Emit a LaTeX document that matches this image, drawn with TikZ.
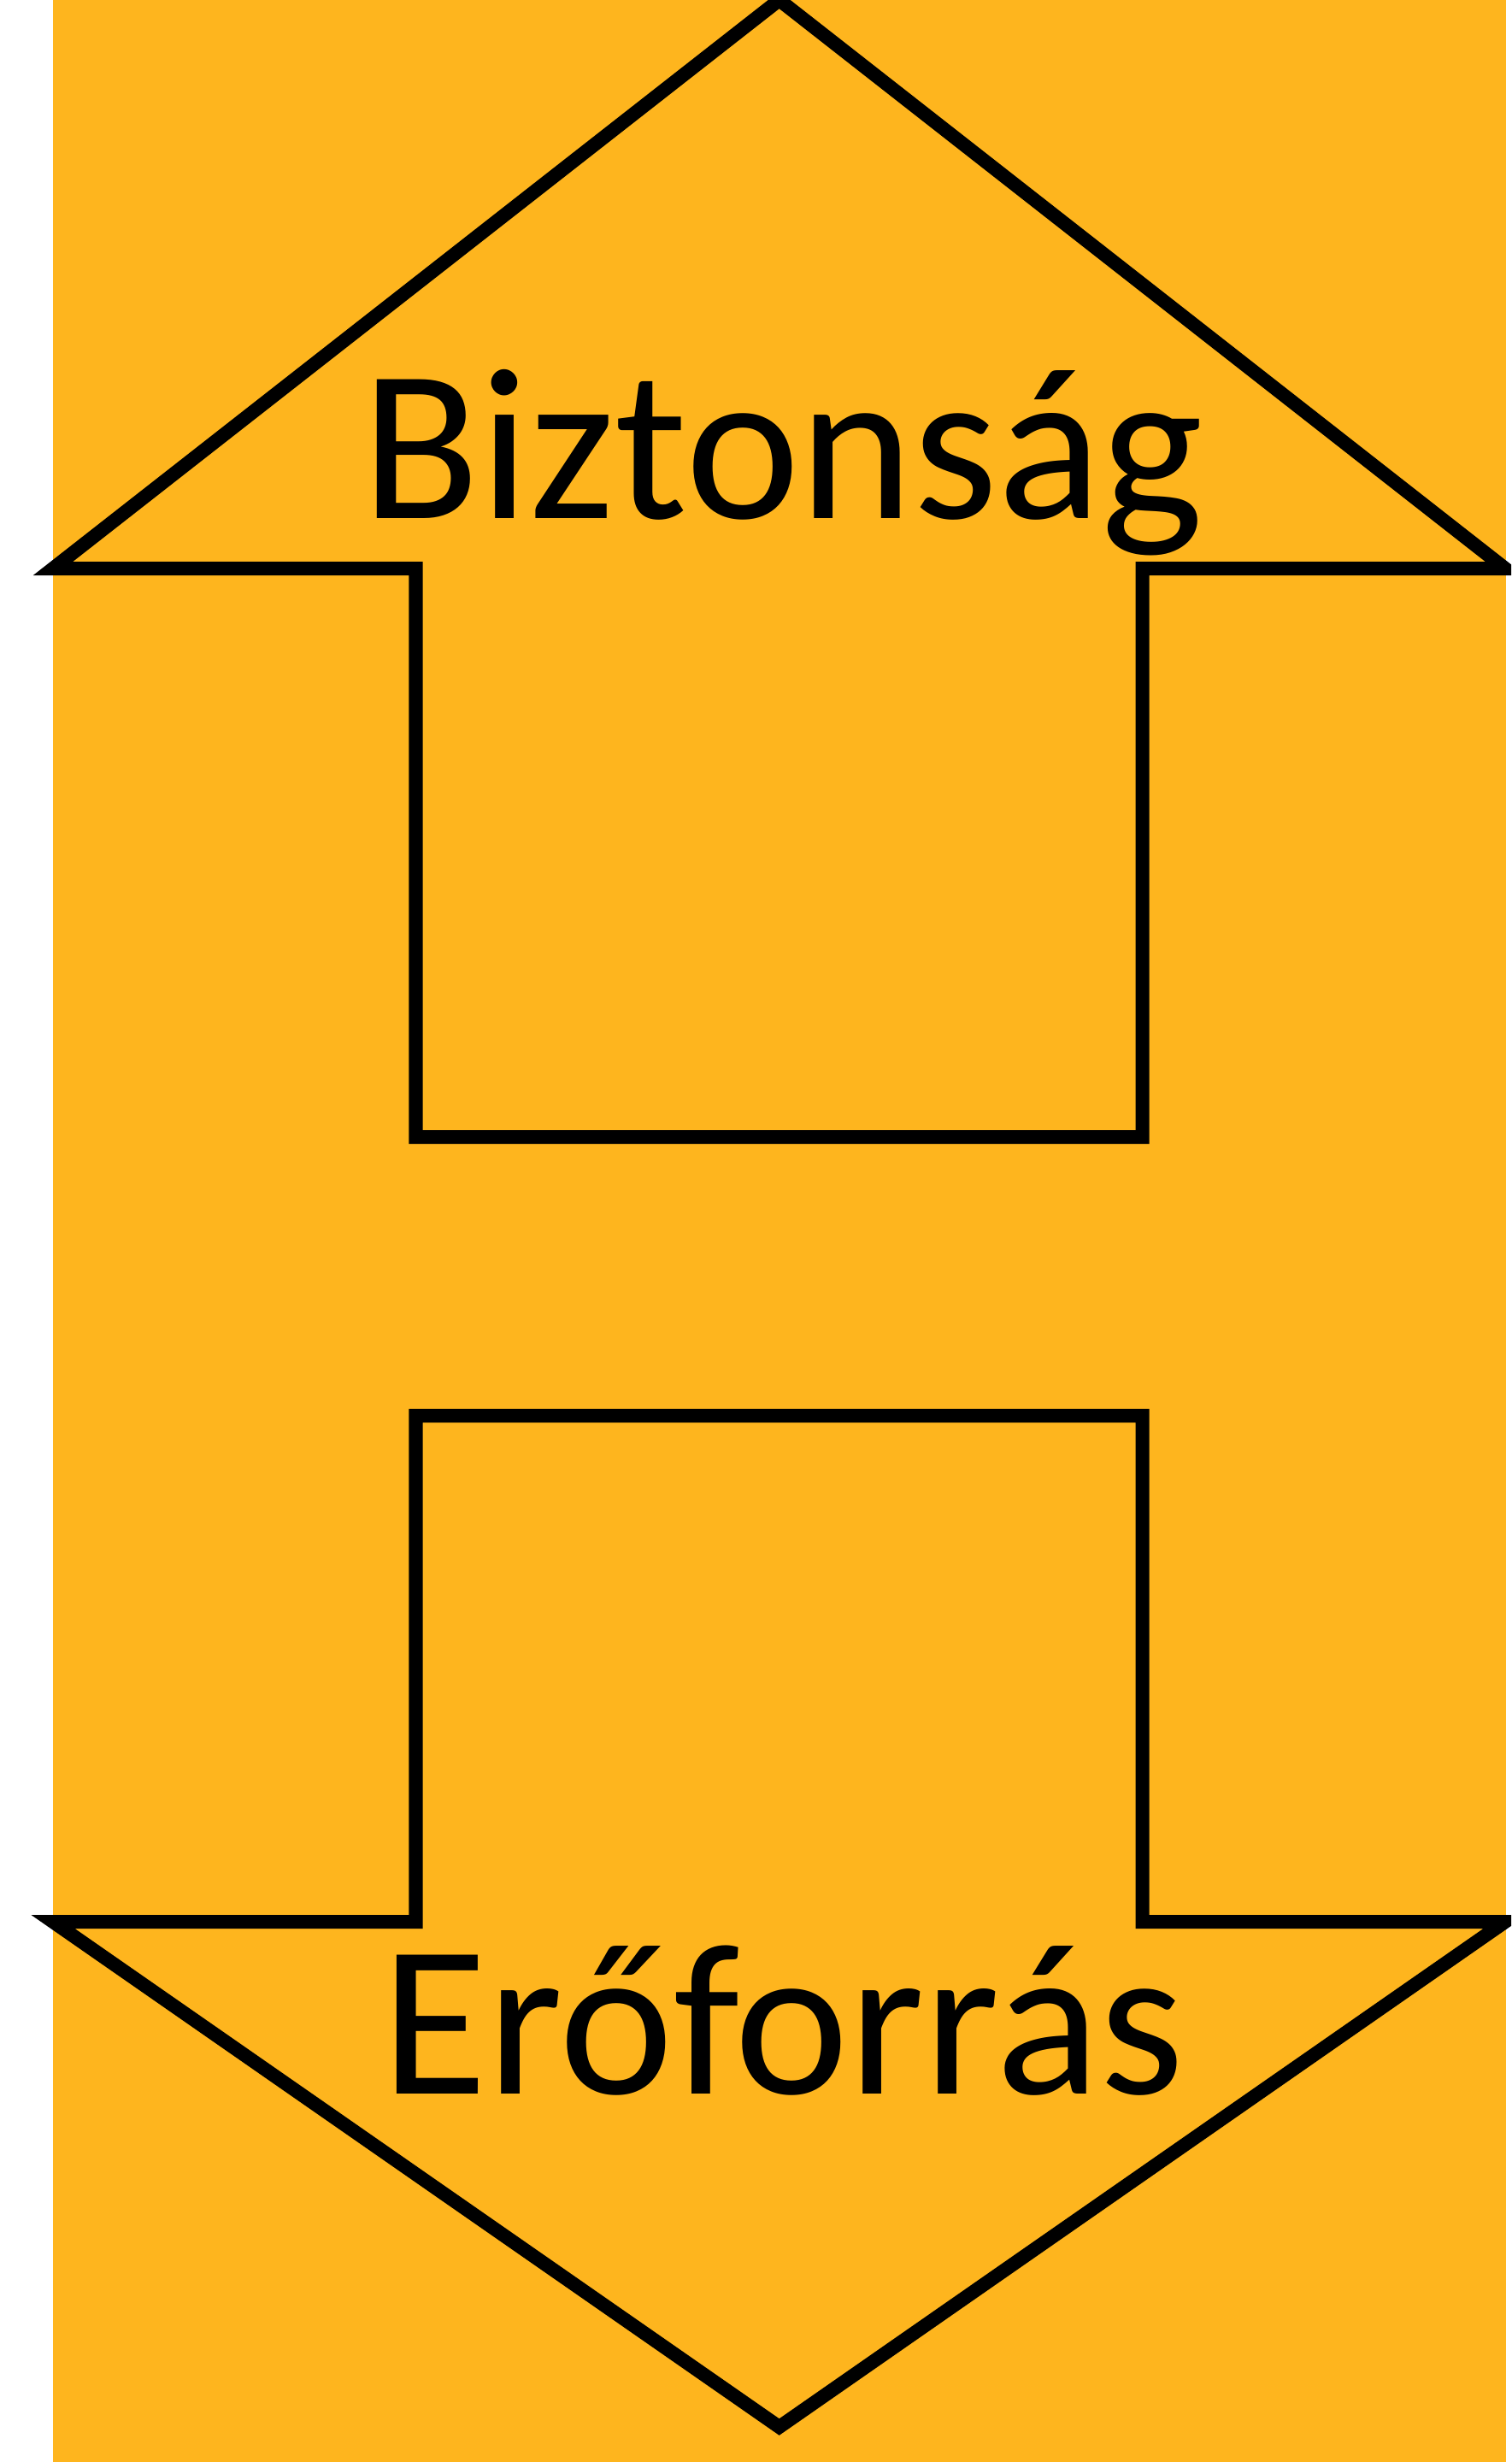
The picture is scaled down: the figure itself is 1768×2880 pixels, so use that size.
\documentclass[tikz,border=0pt]{standalone}
\usepackage{fontspec}
\setmainfont{Carlito}
\definecolor{bgorange}{HTML}{FEB51E}
\tikzset{
  arrowshape/.style={draw=black, line width=0.16cm, line join=miter, miter limit=10},
  label/.style={inner sep=0pt, anchor=base, font=\fontsize{72pt}{86pt}\selectfont}
}
\begin{document}
\begin{tikzpicture}[x=0.01cm, y=-0.01cm]
\useasboundingbox (0,0) rectangle (1768,2880);
\clip (0,0) rectangle (1768,2880);
\fill[bgorange] (62,0) rectangle (1762,2880);
% top arrow (pointing up)
\draw[arrowshape] (62,665) -- (911.7,0) -- (1761,665) -- (1336.5,665) -- (1336.5,1330) -- (486.5,1330) -- (486.5,665) -- cycle;
% bottom arrow (pointing down)
\draw[arrowshape] (62,2248) -- (486.5,2248) -- (486.5,1656) -- (1336.5,1656) -- (1336.5,2248) -- (1761,2248) -- (911.7,2839) -- cycle;
\node[label] (top) at (916,606) {Biztonság};
\node[label] (bottom) at (916,2449) {Erőforrás};
\end{tikzpicture}
\end{document}
